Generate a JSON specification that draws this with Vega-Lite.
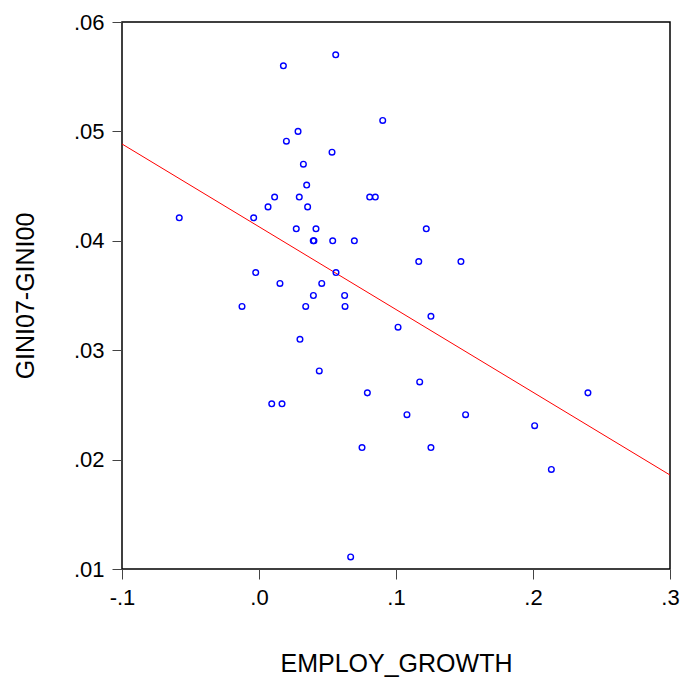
{
  "$schema": "https://vega.github.io/schema/vega-lite/v6.json",
  "autosize": "none",
  "width": 548,
  "height": 547,
  "padding": {"left": 122, "top": 22, "right": 14, "bottom": 110},
  "background": "white",
  "config": {
    "view": {"stroke": "black", "strokeWidth": 1.5},
    "axis": {
      "grid": false,
      "domain": false,
      "tickSize": 10,
      "tickColor": "#444444",
      "tickWidth": 1,
      "labelFont": "Liberation Sans",
      "labelColor": "black",
      "labelPadding": 8,
      "labelFlush": false,
      "labelOverlap": false,
      "titleFont": "Liberation Sans",
      "titleColor": "black",
      "titleFontWeight": "normal",
      "titleFontSize": 25
    }
  },
  "datasets": {
    "pts": [
      {"employ_growth": 0.0560, "gini_change": 0.0570},
      {"employ_growth": 0.0178, "gini_change": 0.0560},
      {"employ_growth": 0.0903, "gini_change": 0.0510},
      {"employ_growth": 0.0285, "gini_change": 0.0500},
      {"employ_growth": 0.0200, "gini_change": 0.0491},
      {"employ_growth": 0.0533, "gini_change": 0.0481},
      {"employ_growth": 0.0324, "gini_change": 0.0470},
      {"employ_growth": 0.0348, "gini_change": 0.0451},
      {"employ_growth": 0.0114, "gini_change": 0.0440},
      {"employ_growth": 0.0294, "gini_change": 0.0440},
      {"employ_growth": 0.0808, "gini_change": 0.0440},
      {"employ_growth": 0.0849, "gini_change": 0.0440},
      {"employ_growth": 0.0066, "gini_change": 0.0431},
      {"employ_growth": 0.0355, "gini_change": 0.0431},
      {"employ_growth": -0.0582, "gini_change": 0.0421},
      {"employ_growth": -0.0039, "gini_change": 0.0421},
      {"employ_growth": 0.0272, "gini_change": 0.0411},
      {"employ_growth": 0.0416, "gini_change": 0.0411},
      {"employ_growth": 0.0401, "gini_change": 0.0400},
      {"employ_growth": 0.0396, "gini_change": 0.0400},
      {"employ_growth": 0.0538, "gini_change": 0.0400},
      {"employ_growth": 0.0696, "gini_change": 0.0400},
      {"employ_growth": -0.0024, "gini_change": 0.0371},
      {"employ_growth": 0.0562, "gini_change": 0.0371},
      {"employ_growth": 0.0153, "gini_change": 0.0361},
      {"employ_growth": 0.0458, "gini_change": 0.0361},
      {"employ_growth": 0.0397, "gini_change": 0.0350},
      {"employ_growth": 0.0625, "gini_change": 0.0350},
      {"employ_growth": 0.1221, "gini_change": 0.0411},
      {"employ_growth": 0.1166, "gini_change": 0.0381},
      {"employ_growth": 0.1474, "gini_change": 0.0381},
      {"employ_growth": -0.0124, "gini_change": 0.0340},
      {"employ_growth": 0.0341, "gini_change": 0.0340},
      {"employ_growth": 0.0628, "gini_change": 0.0340},
      {"employ_growth": 0.1015, "gini_change": 0.0321},
      {"employ_growth": 0.0299, "gini_change": 0.0310},
      {"employ_growth": 0.0440, "gini_change": 0.0281},
      {"employ_growth": 0.0791, "gini_change": 0.0261},
      {"employ_growth": 0.0093, "gini_change": 0.0251},
      {"employ_growth": 0.0168, "gini_change": 0.0251},
      {"employ_growth": 0.0752, "gini_change": 0.0211},
      {"employ_growth": 0.0669, "gini_change": 0.0111},
      {"employ_growth": 0.1255, "gini_change": 0.0331},
      {"employ_growth": 0.1173, "gini_change": 0.0271},
      {"employ_growth": 0.2401, "gini_change": 0.0261},
      {"employ_growth": 0.1080, "gini_change": 0.0241},
      {"employ_growth": 0.1508, "gini_change": 0.0241},
      {"employ_growth": 0.2012, "gini_change": 0.0231},
      {"employ_growth": 0.1255, "gini_change": 0.0211},
      {"employ_growth": 0.2134, "gini_change": 0.0191}
    ],
    "fit": [
      {"employ_growth": -0.1, "gini_change": 0.04885},
      {"employ_growth": 0.3, "gini_change": 0.01859}
    ]
  },
  "layer": [
    {
      "data": {"name": "fit"},
      "mark": {"type": "line", "color": "#ff0000", "strokeWidth": 1},
      "encoding": {
        "x": {"field": "employ_growth", "type": "quantitative"},
        "y": {"field": "gini_change", "type": "quantitative"}
      }
    },
    {
      "data": {"name": "pts"},
      "mark": {"type": "point", "shape": "circle", "filled": false, "color": "#0000ff", "size": 32, "strokeWidth": 1.4, "opacity": 1},
      "encoding": {
        "x": {
          "field": "employ_growth",
          "type": "quantitative",
          "scale": {"domain": [-0.1, 0.3], "nice": false, "zero": false},
          "axis": {
            "title": "EMPLOY_GROWTH",
            "values": [-0.1, 0, 0.1, 0.2, 0.3],
            "labelFontSize": 22,
            "labelExpr": "(datum.value < 0 ? '-' : '') + replace(format(abs(datum.value), '.1f'), '0.', '.')",
            "titleY": 82
          }
        },
        "y": {
          "field": "gini_change",
          "type": "quantitative",
          "scale": {"domain": [0.01, 0.06], "nice": false, "zero": false},
          "axis": {
            "title": "GINI07-GINI00",
            "values": [0.01, 0.02, 0.03, 0.04, 0.05, 0.06],
            "labelFontSize": 22,
            "labelExpr": "replace(format(datum.value, '.2f'), '0.', '.')",
            "titleX": -84
          }
        }
      }
    }
  ]
}
